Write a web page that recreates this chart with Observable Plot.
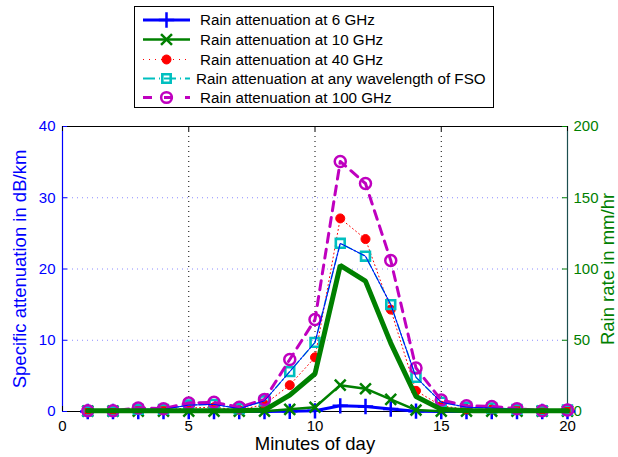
<!DOCTYPE html>
<html>
<head>
<meta charset="utf-8">
<script src="https://cdn.jsdelivr.net/npm/d3@7"></script>
<script src="https://cdn.jsdelivr.net/npm/@observablehq/plot@0.6"></script>
<style>
  body { margin: 0; background: #fff; }
  #wrap { position: relative; width: 618px; height: 457px; font-family: "Liberation Sans", Arial, Helvetica, sans-serif; }
  #legend { position: absolute; left: 0; top: 0; }
</style>
</head>
<body>
<div id="wrap"></div>
<script>
// ---- data ----
const minutes = [1,2,3,4,5,6,7,8,9,10,11,12,13,14,15,16,17,18,19,20];
const att6    = [0,0,0,0,0,0,0,0,0.02,0.1,0.8,0.7,0.35,0.05,0,0,0,0,0,0];
const att10   = [0.05,0.05,0.05,0.05,0.05,0.05,0.05,0.05,0.3,0.6,3.7,3.2,1.7,0.2,0.05,0.05,0.05,0.05,0.05,0.05];
const att40   = [0.05,0.05,0.2,0.2,0.5,0.6,0.2,1.0,3.7,7.6,27.1,24.2,14.3,2.9,0.8,0.3,0.3,0.2,0.05,0.1];
const attFSO  = [0.05,0.05,0.3,0.3,0.9,1.0,0.4,1.5,5.6,9.7,23.6,21.8,15.0,4.8,1.3,0.6,0.5,0.3,0.1,0.2];
const att100  = [0.1,0.1,0.5,0.4,1.2,1.3,0.6,1.7,7.3,12.9,35.1,32.0,21.2,6.1,1.6,0.8,0.7,0.4,0.1,0.2];
const rainRate = [0.5,0.5,0.5,0.5,0.5,0.5,0.5,1,11.5,26.5,102.5,91.5,48,10.5,1.5,0.5,0.5,0.5,0.5,0.5];

const xTicks = [0,5,10,15,20];
const yTicks = [0,10,20,30,40];
const rainTicks = [0,50,100,150,200];
const legendLabels = [
  "Rain attenuation at 6 GHz",
  "Rain attenuation at 10 GHz",
  "Rain attenuation at 40 GHz",
  "Rain attenuation at any wavelength of FSO",
  "Rain attenuation at 100 GHz"
];

// ---- build table ----
const yMax = yTicks[yTicks.length - 1];
const xMax = xTicks[xTicks.length - 1];
const rainMax = rainTicks[rainTicks.length - 1];
const k = rainMax / yMax; // right-axis scale factor
const rows = minutes.map((m, i) => ({
  m, a6: att6[i], a10: att10[i], a40: att40[i], fso: attFSO[i], a100: att100[i], rain: rainRate[i]
}));

const BLUE = "#0000ff", GREEN = "#008000", RED = "#ff0000", CYAN = "#00bfbf", MAG = "#bf00bf";
const font = "'Liberation Sans', Arial, Helvetica, sans-serif";

const chart = Plot.plot({
  width: 618, height: 457,
  marginLeft: 62, marginRight: 51, marginTop: 126, marginBottom: 46,
  style: { fontFamily: font, background: "white", overflow: "visible" },
  x: { type: "linear", domain: [0, xMax] },
  y: { type: "linear", domain: [0, yMax] },
  marks: [
    // grid
    Plot.ruleY(yTicks.slice(1, -1), { stroke: "#8c8cff", strokeDasharray: "1,4", strokeWidth: 1 }),
    Plot.ruleX(xTicks.slice(1, -1), { stroke: "#000", strokeDasharray: "1,4", strokeWidth: 1 }),
    // frame
    Plot.ruleY([0], { stroke: "#000", strokeWidth: 1.2 }),
    Plot.ruleY([yMax], { stroke: "#000", strokeWidth: 1 }),
    Plot.ruleX([0], { stroke: BLUE, strokeWidth: 1.2 }),
    Plot.ruleX([xMax], { stroke: "#1c4f4f", strokeWidth: 1.2 }),
    // inward ticks
    Plot.ruleY(yTicks, { x1: 0, x2: 0.2, stroke: BLUE }),
    Plot.ruleY(yTicks, { x1: xMax - 0.2, x2: xMax, stroke: GREEN }),
    Plot.ruleX(xTicks, { y1: 0, y2: 0.7, stroke: "#000" }),
    Plot.ruleX(xTicks, { y1: yMax - 0.7, y2: yMax, stroke: "#000" }),
    // axes labels
    Plot.axisY(yTicks, { anchor: "left", tickSize: 0, tickPadding: 7, fontSize: 15, color: BLUE, label: null }),
    Plot.axisY(yTicks, { anchor: "right", tickSize: 0, tickPadding: 6, fontSize: 15, color: GREEN, label: null, tickFormat: d => d * k }),
    Plot.axisX(xTicks, { anchor: "bottom", tickSize: 0, tickPadding: 9, fontSize: 15, color: "#000", label: null }),
    Plot.text(["Specific attenuation in dB/km"], { text: d => d, frameAnchor: "left", textAnchor: "middle", lineAnchor: "middle", rotate: -90, dx: -42, fill: BLUE, fontSize: 18.5 }),
    Plot.text(["Rain rate in mm/hr"], { text: d => d, frameAnchor: "right", textAnchor: "middle", lineAnchor: "middle", rotate: -90, dx: 41, fill: GREEN, fontSize: 18.5 }),
    Plot.text(["Minutes of day"], { text: d => d, frameAnchor: "bottom", textAnchor: "middle", lineAnchor: "middle", dy: 33, fill: "#000", fontSize: 18.5 }),
    // 6 GHz
    Plot.line(rows, { x: "m", y: "a6", stroke: BLUE, strokeWidth: 3 }),
    Plot.dot(rows, { x: "m", y: "a6", symbol: "plus", r: 5, stroke: BLUE, strokeWidth: 2.5 }),
    // 10 GHz
    Plot.line(rows, { x: "m", y: "a10", stroke: GREEN, strokeWidth: 2.5 }),
    Plot.dot(rows, { x: "m", y: "a10", symbol: "times", r: 5, stroke: GREEN, strokeWidth: 2.5 }),
    // 40 GHz
    Plot.line(rows, { x: "m", y: "a40", stroke: RED, strokeWidth: 1, strokeDasharray: "1,3" }),
    Plot.dot(rows, { x: "m", y: "a40", r: 4.5, fill: RED, stroke: RED, strokeWidth: 1 }),
    // FSO
    Plot.line(rows, { x: "m", y: "fso", stroke: CYAN, strokeWidth: 1.5, strokeDasharray: "7,3,1,3" }),
    Plot.dot(rows, { x: "m", y: "fso", symbol: "square", r: 5, stroke: CYAN, strokeWidth: 2.6, fill: "none" }),
    // 100 GHz
    Plot.line(rows, { x: "m", y: "a100", stroke: MAG, strokeWidth: 3, strokeDasharray: "9,7" }),
    Plot.dot(rows, { x: "m", y: "a100", r: 5.5, stroke: MAG, strokeWidth: 2.5, fill: "none" }),
    // thin blue line through FSO points
    Plot.line(rows, { x: "m", y: "fso", stroke: BLUE, strokeWidth: 1 }),
    // rain rate (right axis)
    Plot.line(rows, { x: "m", y: d => d.rain / k, stroke: GREEN, strokeWidth: 5, strokeLinejoin: "miter" })
  ]
});
document.getElementById("wrap").appendChild(chart);

// ---- legend overlay ----
const lg = d3.select("#wrap").append("svg").attr("id", "legend")
  .attr("width", 618).attr("height", 120);
lg.append("rect").attr("x", 134.5).attr("y", 6.5).attr("width", 359).attr("height", 101)
  .attr("fill", "white").attr("stroke", "#000").attr("stroke-width", 1);
const styles = [
  { c: BLUE, w: 3, dash: null, sym: d3.symbolPlus, fill: "none", sw: 2.5, size: 80 },
  { c: GREEN, w: 2.5, dash: null, sym: d3.symbolTimes, fill: "none", sw: 2.5, size: 80 },
  { c: RED, w: 1, dash: "1,5", sym: d3.symbolCircle, fill: RED, sw: 1, size: 64 },
  { c: CYAN, w: 2, dash: "12,4,1,4", sym: d3.symbolSquare, fill: "none", sw: 2.6, size: 70 },
  { c: MAG, w: 3, dash: "9,12", sym: d3.symbolCircle, fill: "none", sw: 2.5, size: 90 }
];
const rowY = [20, 39.5, 59.5, 78.5, 97.5];
legendLabels.forEach((t, i) => {
  const s = styles[i], y = rowY[i];
  lg.append("line").attr("x1", 143).attr("x2", 190).attr("y1", y).attr("y2", y)
    .attr("stroke", s.c).attr("stroke-width", s.w).attr("stroke-dasharray", s.dash);
  lg.append("path").attr("d", d3.symbol(s.sym, s.size)()).attr("transform", `translate(166.5,${y})`)
    .attr("stroke", s.c).attr("stroke-width", s.sw).attr("fill", s.fill);
  lg.append("text").attr("x", i === 3 ? 196 : 200).attr("y", y).attr("dy", "0.35em")
    .attr("font-family", font).attr("font-size", 15.2).attr("fill", "#000").text(t);
});
</script>
</body>
</html>
